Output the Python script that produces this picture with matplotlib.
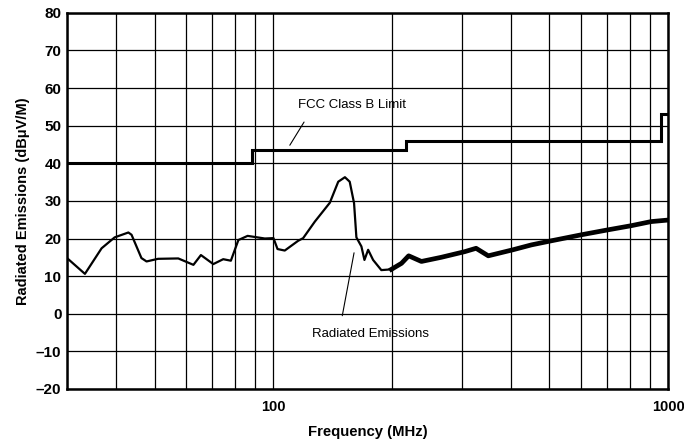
import matplotlib
matplotlib.use("Agg")
import matplotlib.pyplot as plt
from matplotlib.ticker import LogLocator, NullFormatter, FixedLocator, FixedFormatter

plt.rcParams["font.family"] = ["Liberation Sans", "DejaVu Sans"]

# FCC Class B limit (step line)
limit_freq = [30, 88, 88, 216, 216, 960, 960, 1000]
limit_db = [40, 40, 43.5, 43.5, 46, 46, 53, 53]

# Measured radiated emissions, low-frequency part
low_freq = [30, 33.3, 36.7, 39.6, 42.9, 43.7, 46.3, 47.7, 51, 57.4, 62.7, 65.5,
            70.4, 74.6, 78, 81.5, 86, 95.1, 100, 102.4, 106.8, 115.5, 118.9,
            127.3, 138.9, 145.9, 151.7, 156, 160, 162.2, 167, 170, 173.7,
            178.8, 187.6, 198.9]
low_db = [14.8, 10.6, 17.4, 20.3, 21.6, 21.0, 14.8, 13.9, 14.6, 14.7, 13.0, 15.6,
          13.2, 14.5, 14.1, 19.6, 20.7, 20.0, 20.1, 17.2, 16.8, 19.4, 20.1,
          24.5, 29.5, 35.1, 36.3, 35.1, 29.4, 20.3, 17.9, 14.3, 17.0,
          14.3, 11.6, 11.8]

# Measured radiated emissions, noisy high-frequency part
high_freq = [198.9, 211, 220, 237, 266, 305, 326, 350, 404, 450, 506, 603,
             703, 805, 905, 997]
high_db = [11.8, 13.4, 15.4, 13.9, 15.0, 16.5, 17.4, 15.4, 17.0, 18.3, 19.4,
           21.0, 22.3, 23.4, 24.5, 24.9]

fig = plt.figure(figsize=(6.84, 4.43), dpi=100)
ax = fig.add_axes([0.098, 0.122, 0.879, 0.849])

ax.plot(limit_freq, limit_db, color="black", lw=2.2, solid_joinstyle="miter")
ax.plot(low_freq, low_db, color="black", lw=1.6)
ax.plot(high_freq, high_db, color="black", lw=3.4)

ax.set_xscale("log")
ax.set_xlim(30, 1000)
ax.set_ylim(-20, 80)

ax.xaxis.set_major_locator(FixedLocator([100, 1000]))
ax.xaxis.set_major_formatter(FixedFormatter(["100", "1000"]))
ax.xaxis.set_minor_locator(LogLocator(base=10, subs=range(2, 10)))
ax.xaxis.set_minor_formatter(NullFormatter())
ax.set_yticks(range(-20, 81, 10))
ax.set_yticklabels([str(v).replace("-", "\u2013") for v in range(-20, 81, 10)])

ax.grid(True, which="both", color="black", lw=0.9)
ax.tick_params(which="both", length=0)
ax.tick_params(axis="y", pad=4, labelsize=11)
ax.tick_params(axis="x", pad=8, labelsize=10.5)
for lbl in ax.get_xticklabels() + ax.get_yticklabels():
    lbl.set_fontweight("bold")
for s in ax.spines.values():
    s.set_linewidth(1.8)

ax.set_xlabel("Frequency (MHz)", fontsize=10.7, fontweight="bold", labelpad=8)
ax.set_ylabel("Radiated Emissions (dB\u03bcV/M)", fontsize=10.5, fontweight="bold", labelpad=4)

ax.annotate("FCC Class B Limit", xy=(110, 44.8), xytext=(158, 55.5),
            fontsize=9.5, ha="center", va="center",
            arrowprops=dict(arrowstyle="-", color="black", lw=0.8,
                            shrinkA=7, shrinkB=0, relpos=(0.12, 0.0)))
ax.annotate("Radiated Emissions", xy=(160, 16.2), xytext=(176, -5.4),
            fontsize=9.5, ha="center", va="center",
            arrowprops=dict(arrowstyle="-", color="black", lw=0.8,
                            shrinkA=7, shrinkB=0, relpos=(0.24, 1.0)))

fig.savefig("out.png", dpi=100)
